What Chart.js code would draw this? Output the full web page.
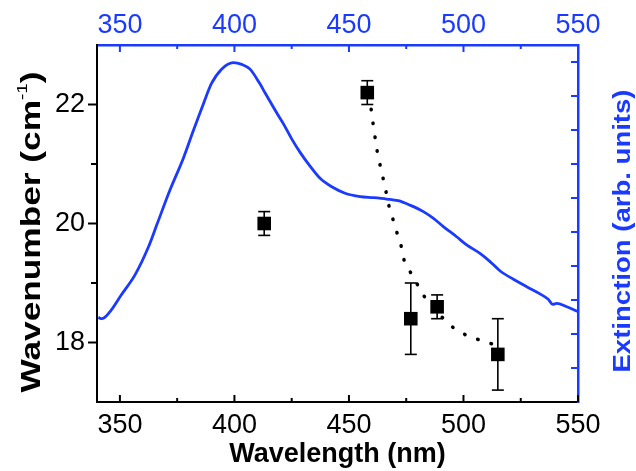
<!DOCTYPE html>
<html>
<head>
  <title>Wavenumber and Extinction vs Wavelength</title>
  <script src="https://cdn.jsdelivr.net/npm/chart.js"></script>
  <style>
    body { margin: 0; background: #fff; }
  </style>
</head>
<body>
  <canvas id="myChart" width="636" height="471"></canvas>

  <script>
    // Extinction spectrum (blue line, right axis, arb. units)
    const specNm = [340.6, 342.1, 345.7, 350.8, 356.6, 362.4, 366.1, 371.9, 377.7, 382.0, 386.4, 390.0,
      394.4, 399.5, 403.2, 406.8, 411.2, 413.4, 418.5, 421.4, 425.0, 428.6, 433.0, 437.4, 442.5, 448.3,
      454.9, 460.7, 466.5, 471.5, 476.6, 482.5, 486.9, 491.2, 497.0, 501.4, 507.2, 511.6, 515.9, 521.8,
      527.6, 533.4, 537.0, 539.0, 540.7, 545.1, 550.0];
    const specExt = [0.249, 0.245, 0.266, 0.317, 0.374, 0.455, 0.521, 0.624, 0.717, 0.797, 0.876, 0.937,
      0.979, 0.998, 0.993, 0.979, 0.935, 0.909, 0.850, 0.818, 0.774, 0.735, 0.694, 0.658, 0.633, 0.614,
      0.604, 0.601, 0.597, 0.592, 0.579, 0.560, 0.540, 0.516, 0.486, 0.462, 0.437, 0.413, 0.386, 0.361,
      0.339, 0.318, 0.302, 0.287, 0.290, 0.280, 0.266];

    // Measured wavenumbers (10^3 cm-1) with error bars
    const pointNm = [413, 458, 477, 488.5, 515];
    const pointWn = [20.0, 22.2, 18.4, 18.6, 17.8];
    const pointErr = [0.2, 0.2, 0.6, 0.2, 0.6];

    // Dotted guide curve
    const fitNm = [459.7, 460.5, 461.4, 462.3, 463.6, 464.9, 466.2, 467.5, 469.3, 471.0, 472.8, 474.2,
      477.6, 481.0, 484.5, 489.8, 495.9, 502.0, 508.1, 513.8];
    const fitWn = [21.92, 21.69, 21.45, 21.22, 20.98, 20.76, 20.53, 20.29, 20.06, 19.84, 19.62, 19.37,
      19.13, 18.90, 18.68, 18.46, 18.24, 18.11, 18.03, 17.96];

    // Ticks
    const nmTicks = [350, 400, 450, 500, 550];
    const nmMinor = [375, 425, 475, 525];
    const wnTicks = [18, 20, 22];
    const wnMinor = [19, 21];
    const extTicks = [0.1, 0.2, 0.3, 0.4, 0.5, 0.6, 0.7, 0.8, 0.9, 1.0];

    const blue = '#1a3aff';
    const fam = "'Liberation Sans', Arial, sans-serif";

    function line(ctx, x1, y1, x2, y2) {
      ctx.beginPath();
      ctx.moveTo(x1, y1);
      ctx.lineTo(x2, y2);
      ctx.stroke();
    }

    // draws rotated (bottom-to-top) text, stretched along its length
    function vText(ctx, parts, cx, cy, length, color) {
      ctx.save();
      ctx.translate(cx, cy);
      ctx.rotate(-Math.PI / 2);
      let w = 0;
      parts.forEach(p => { ctx.font = p.font; w += ctx.measureText(p.text).width; });
      ctx.scale(length / w, 1);
      ctx.fillStyle = color;
      ctx.textBaseline = 'alphabetic';
      let x = -w / 2;
      parts.forEach(p => {
        ctx.font = p.font;
        ctx.fillText(p.text, x, p.dy);
        x += ctx.measureText(p.text).width;
      });
      ctx.restore();
    }

    const axisDecor = {
      id: 'axisDecor',
      afterDatasetsDraw(chart) {
        // error bars
        const ctx = chart.ctx, xs = chart.scales.x, ys = chart.scales.y;
        ctx.save();
        ctx.strokeStyle = '#000';
        ctx.lineWidth = 1.6;
        pointNm.forEach((nm, i) => {
          const px = xs.getPixelForValue(nm);
          const top = ys.getPixelForValue(pointWn[i] + pointErr[i]);
          const bot = ys.getPixelForValue(pointWn[i] - pointErr[i]);
          line(ctx, px, top, px, bot);
          line(ctx, px - 6, top, px + 6, top);
          line(ctx, px - 6, bot, px + 6, bot);
        });
        ctx.restore();
      },
      afterDraw(chart) {
        const ctx = chart.ctx, a = chart.chartArea, s = chart.scales;
        ctx.save();
        ctx.lineWidth = 2;
        // bottom axis, inward ticks
        ctx.strokeStyle = '#000';
        nmTicks.forEach(v => { const p = s.x.getPixelForValue(v); line(ctx, p, a.bottom, p, a.bottom - 7); });
        nmMinor.forEach(v => { const p = s.x.getPixelForValue(v); line(ctx, p, a.bottom, p, a.bottom - 4); });
        // left axis, outward ticks
        wnTicks.forEach(v => { const p = s.y.getPixelForValue(v); line(ctx, a.left, p, a.left - 9, p); });
        wnMinor.forEach(v => { const p = s.y.getPixelForValue(v); line(ctx, a.left, p, a.left - 6, p); });
        // top axis, inward ticks
        ctx.strokeStyle = blue;
        nmTicks.forEach(v => { const p = s.x2.getPixelForValue(v); line(ctx, p, a.top, p, a.top + 7); });
        nmMinor.forEach(v => { const p = s.x2.getPixelForValue(v); line(ctx, p, a.top, p, a.top + 4); });
        // right axis, inward ticks
        extTicks.forEach(v => { const p = s.y2.getPixelForValue(v); line(ctx, a.right, p, a.right - 7, p); });
        ctx.restore();

        // vertical axis titles
        vText(ctx, [
          { text: 'Wavenumber (cm', font: 'bold 28px ' + fam, dy: 10 },
          { text: '-1', font: '15px ' + fam, dy: -3 },
          { text: ')', font: 'bold 28px ' + fam, dy: 10 }
        ], 30, 232, 321, '#000');
        vText(ctx, [
          { text: 'Extinction (arb. units)', font: 'bold 23px ' + fam, dy: 8 }
        ], 622, 231, 283, blue);
      }
    };

    const ctx = document.getElementById('myChart').getContext('2d');
    const myChart = new Chart(ctx, {
      type: 'scatter',
      data: {
        datasets: [{
          label: 'Wavenumber',
          data: pointNm.map((x, i) => ({ x: x, y: pointWn[i] })),
          xAxisID: 'x',
          yAxisID: 'y',
          pointStyle: 'rect',
          pointRadius: 9.6,
          backgroundColor: '#000',
          borderColor: '#000',
          borderWidth: 0
        }, {
          label: 'Guide',
          data: fitNm.map((x, i) => ({ x: x, y: fitWn[i] })),
          xAxisID: 'x',
          yAxisID: 'y',
          showLine: true,
          pointRadius: 0,
          borderColor: '#000',
          borderWidth: 3.5,
          borderDash: [0.5, 13.5],
          borderCapStyle: 'round',
          tension: 0.3
        }, {
          label: 'Extinction',
          data: specNm.map((x, i) => ({ x: x, y: specExt[i] })),
          xAxisID: 'x',
          yAxisID: 'y2',
          showLine: true,
          pointRadius: 0,
          borderColor: blue,
          borderWidth: 2.8,
          cubicInterpolationMode: 'monotone'
        }]
      },
      options: {
        responsive: false,
        animation: false,
        layout: { padding: 0 },
        plugins: { legend: { display: false }, tooltip: { enabled: false } },
        scales: {
          x: {
            type: 'linear', position: 'bottom', min: 340, max: 550,
            grid: { display: false, drawTicks: false },
            border: { display: true, color: '#000', width: 2 },
            ticks: { color: '#000', font: { family: fam, size: 27 }, padding: 7, maxRotation: 0, autoSkip: false },
            afterBuildTicks: s => { s.ticks = nmTicks.map(v => ({ value: v })); },
            afterFit: s => { s.height = 69; },
            title: { display: true, text: 'Wavelength (nm)', color: '#000', padding: { top: 0, bottom: 3 },
              font: { family: fam, size: 27, weight: 'bold', lineHeight: 1 } }
          },
          x2: {
            type: 'linear', position: 'top', min: 340, max: 550,
            grid: { display: false, drawTicks: false },
            border: { display: true, color: blue, width: 2.5 },
            ticks: { color: blue, font: { family: fam, size: 27 }, padding: 3, maxRotation: 0, autoSkip: false },
            afterBuildTicks: s => { s.ticks = nmTicks.map(v => ({ value: v })); },
            afterFit: s => { s.height = 45; }
          },
          y: {
            type: 'linear', position: 'left', min: 17, max: 23,
            grid: { display: false, drawTicks: false },
            border: { display: true, color: '#000', width: 2 },
            ticks: { color: '#000', font: { family: fam, size: 27 }, padding: 12 },
            afterBuildTicks: s => { s.ticks = wnTicks.map(v => ({ value: v })); },
            afterFit: s => { s.width = 97; }
          },
          y2: {
            type: 'linear', position: 'right', min: 0, max: 1.05,
            grid: { display: false, drawTicks: false },
            border: { display: true, color: blue, width: 2.5 },
            ticks: { display: false },
            afterBuildTicks: s => { s.ticks = extTicks.map(v => ({ value: v })); },
            afterFit: s => { s.width = 58; }
          }
        }
      },
      plugins: [axisDecor]
    });
  </script>
</body>
</html>
